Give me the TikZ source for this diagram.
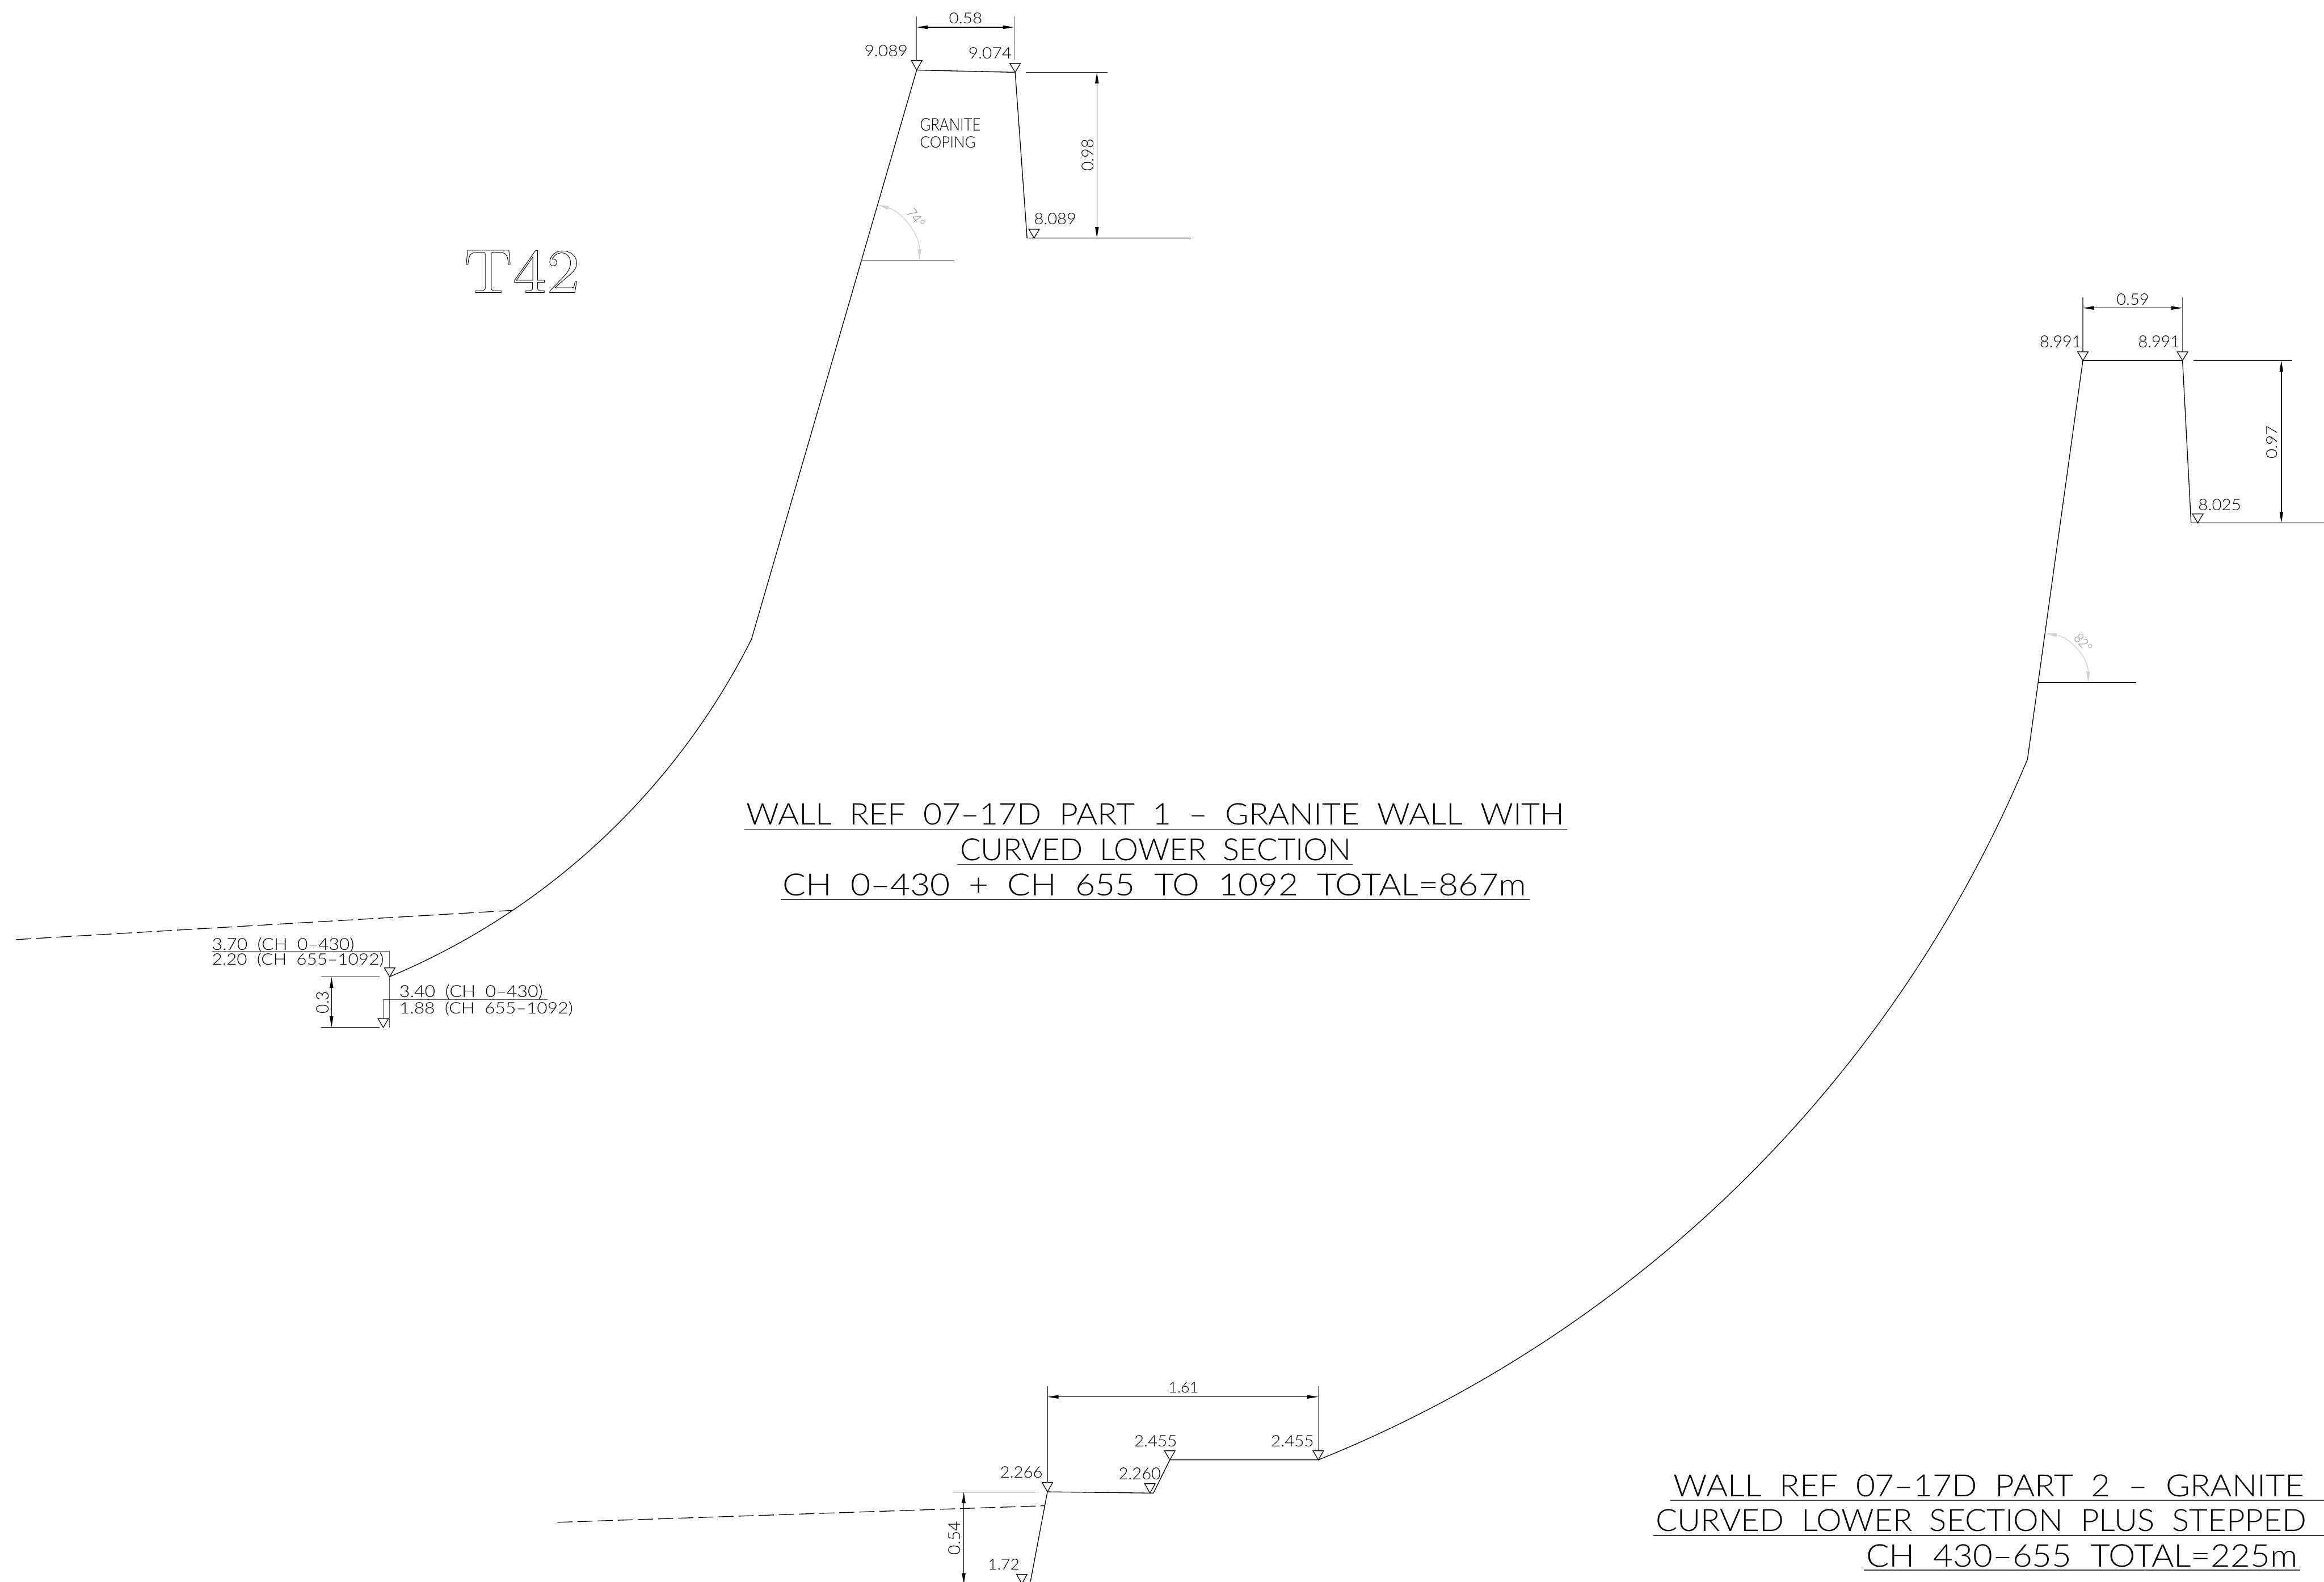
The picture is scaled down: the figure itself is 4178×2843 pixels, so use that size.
\documentclass[tikz,border=0pt]{standalone}
\usepackage{fontspec}
\usepackage{graphicx}
\usetikzlibrary{arrows.meta}
\newfontfamily\cadfont{Lato Light}
\newfontfamily\tfont{Latin Modern Roman}
\newsavebox\cadbox
\newsavebox\cadcap
\newcommand\cad[3]{\sbox\cadbox{\cadfont #3}\sbox\cadcap{\cadfont H}%
  \pgfmathsetmacro\cadsx{#1*0.284528/\the\wd\cadbox}%
  \pgfmathsetmacro\cadsy{#2*0.284528/\the\ht\cadcap}%
  \scalebox{\cadsx}[\cadsy]{\usebox\cadbox}}
\newcommand\lvlmark[3]{\draw[lvl] (#1,#2) -- (#1-9.5,#3) -- (#1+9.5,#3) -- cycle;}
\tikzset{
  wall/.style={line width=0.38pt,black},
  ext/.style={line width=0.38pt,black!65},
  dimline/.style={line width=0.38pt,black,{Triangle[length=5.7pt,width=1.8pt]}-{Triangle[length=5.7pt,width=1.8pt]}},
  lvl/.style={line width=0.36pt,black},
  ground/.style={line width=0.38pt,black,dash pattern=on 7.7pt off 2.6pt},
  anglearc/.style={line width=0.38pt,black!18,{Triangle[length=5.7pt,width=1.8pt]}-{Triangle[length=5.7pt,width=1.8pt]}},
  uline/.style={line width=0.55pt,black!75},
  txt/.style={inner sep=0pt,outer sep=0pt,anchor=base west,black},
  angletxt/.style={inner sep=0pt,outer sep=0pt,anchor=center,black!45}
}
\begin{document}
\begin{tikzpicture}[x=0.01cm,y=-0.01cm]
\useasboundingbox (0,0) rectangle (4178,2843);
\clip (0,0) rectangle (4178,2843);
\fill[white] (0,0) rectangle (4178,2843);

% T42
\node[txt] (t42) at (834,526) {\tfont\special{pdf:code 1 Tr 0.08 w}\scalebox{3.45}[3.2]{T42}\special{pdf:code 0 Tr}};

% ---------- Part 1 section
\draw[wall] (1825,130) -- (1648,126) -- (1351,1149);
\draw[wall] (1825,130) -- (1846.4,428) -- (2141.5,428);
\draw[wall] (1549,468) -- (1716,468);
\draw[wall] (1351,1149) arc[start angle=26.70,end angle=67.29,radius=1282.3];
\draw[ground] (29,1689) -- (921,1636.5);
\lvlmark{1648}{126}{109}
\lvlmark{1825}{130}{114}
\lvlmark{1859}{428}{412}
\draw[ext] (1648,30) -- (1648,109);
\draw[ext] (1823,30) -- (1823,107);
\draw[dimline] (1648,49) -- (1823,49);
\draw[wall] (1844,130) -- (1991,130);
\draw[dimline] (1972,130) -- (1972,428);
\draw[anglearc] (1577.7,368) arc[start angle=-74,end angle=0,radius=104];
\node[txt] (a58) at (1706,42) {\cad{60}{19}{0.58}};
\node[txt] (e1) at (1554,102) {\cad{78}{20}{9.089}};
\node[txt] (e2) at (1741,106) {\cad{78}{20}{9.074}};
\node[txt] (e3) at (1859,403) {\cad{76}{20}{8.089}};
\node[txt] (gr) at (1654,235) {\cad{109}{22}{GRANITE}};
\node[txt] (cp) at (1654,266) {\cad{100}{20}{COPING}};
\node[txt,rotate=90] (d98) at (1966,308) {\cad{58}{21}{0.98}};
\node[angletxt,rotate=-53] (a74) at (1647,392) {\cad{36}{18}{74°}};

% foot, part 1
\draw[ext] (381,1710) -- (700.5,1710) -- (700.5,1740);
\draw[ext] (700.5,1756) -- (700.5,1847);
\lvlmark{700.5}{1755.7}{1740}
\draw[ext] (984,1797) -- (689,1797) -- (689,1831);
\lvlmark{689}{1847}{1831}
\draw[wall] (577,1756) -- (682,1756);
\draw[wall] (577,1847) -- (682,1847);
\draw[dimline] (596,1756) -- (596,1847);
\node[txt] (l1) at (381,1708) {\cad{256}{21}{3.70~~(CH~~0–430)}};
\node[txt] (l2) at (381,1735) {\cad{309}{20}{2.20~~(CH~~655–1092)}};
\node[txt] (l3) at (718,1793) {\cad{258}{21}{3.40~~(CH~~0–430)}};
\node[txt] (l4) at (718,1822) {\cad{312}{20}{1.88~~(CH~~655–1092)}};
\node[txt,rotate=90] (d03) at (591,1822) {\cad{40}{22}{0.3}};

% title part 1
\node[txt] (ta1) at (1342,1483) {\cad{1470}{38}{WALL~~REF~~07–17D~~PART~~1~~–~~GRANITE~~WALL~~WITH}};
\draw[uline] (1338,1490.7) -- (2817,1490.7);
\node[txt] (ta2) at (1726,1547) {\cad{703}{39}{CURVED~~LOWER~~SECTION}};
\draw[uline] (1721,1554) -- (2432,1554);
\node[txt] (ta3) at (1407,1610) {\cad{1336}{39}{CH~~0–430~~+~~CH~~655~~TO~~1092~~TOTAL=867m}};
\draw[uline] (1403.5,1617) -- (2750,1617);

% ---------- Part 2 section
\draw[wall] (3923.6,648) -- (3744.5,648) -- (3645,1364);
\draw[wall] (3923.6,648) -- (3939,940) -- (4178,940);
\draw[wall] (3665,1227) -- (3840,1227);
\draw[wall] (3645.2,1364) arc[start angle=22.61,end angle=68.07,radius=2320];
\lvlmark{3744.5}{648}{632.5}
\lvlmark{3923.6}{648}{632.5}
\lvlmark{3951}{940}{924}
\draw[ext] (3744.5,535) -- (3744.5,632.5);
\draw[ext] (3923.6,535) -- (3923.6,632.5);
\draw[dimline] (3744.5,553.6) -- (3923.6,553.6);
\draw[wall] (3943,648) -- (4120.5,648);
\draw[dimline] (4101.3,648) -- (4101.3,940);
\draw[anglearc] (3677.4,1138.9) arc[start angle=-82,end angle=0,radius=89];
\node[txt] (a59) at (3805,548) {\cad{58.5}{20}{0.59}};
\node[txt] (e4) at (3667,625) {\cad{75}{21}{8.991}};
\node[txt] (e5) at (3844,625) {\cad{75}{21}{8.991}};
\node[txt] (e6) at (3952,917) {\cad{77}{20}{8.025}};
\node[txt,rotate=90] (d97) at (4094,825) {\cad{60}{19}{0.97}};
\node[angletxt,rotate=-49] (a82) at (3745.6,1155.5) {\cad{34}{17}{82°}};

% steps, part 2
\draw[wall] (1852.5,2843) -- (1883,2681.7) -- (2073.5,2684) -- (2103,2624.3) -- (2370,2624.3);
\lvlmark{1883}{2681.7}{2665}
\lvlmark{2067.3}{2684}{2667}
\lvlmark{2103}{2624.3}{2608}
\lvlmark{2370}{2624.3}{2608}
\lvlmark{1837}{2847}{2830}
\draw[ext] (1883,2492) -- (1883,2665);
\draw[ext] (2370,2492) -- (2370,2608);
\draw[dimline] (1883,2511) -- (2370,2511);
\draw[wall] (1714,2682) -- (1863,2682);
\draw[dimline] (1732.6,2682) -- (1732.6,2848);
\draw[ground] (1002,2736.5) -- (1878,2706.7);
\node[txt] (e7) at (2100.5,2504) {\cad{54}{19}{1.61}};
\node[txt] (e8) at (2039,2601) {\cad{77}{20}{2.455}};
\node[txt] (e9) at (2285,2601) {\cad{77}{20}{2.455}};
\node[txt] (e10) at (1798,2657) {\cad{76.5}{20}{2.266}};
\node[txt] (e11) at (2011,2660) {\cad{76}{21}{2.260}};
\node[txt] (e12) at (1776,2822) {\cad{57}{19}{1.72}};
\node[txt,rotate=90] (d54) at (1726.5,2795) {\cad{60}{21}{0.54}};

% title part 2
\node[txt] (tb1) at (3009,2690) {\cad{1133}{39}{WALL~~REF~~07–17D~~PART~~2~~–~~GRANITE}};
\draw[uline] (3003,2697) -- (4178,2697);
\node[txt] (tb2) at (2977,2753) {\cad{1169}{39}{CURVED~~LOWER~~SECTION~~PLUS~~STEPPED}};
\draw[uline] (2972,2760) -- (4178,2760);
\node[txt] (tb3) at (3355,2817) {\cad{775}{40}{CH~~430–655~~TOTAL=225m}};
\draw[uline] (3351,2822) -- (4135,2822);
\end{tikzpicture}
\end{document}
